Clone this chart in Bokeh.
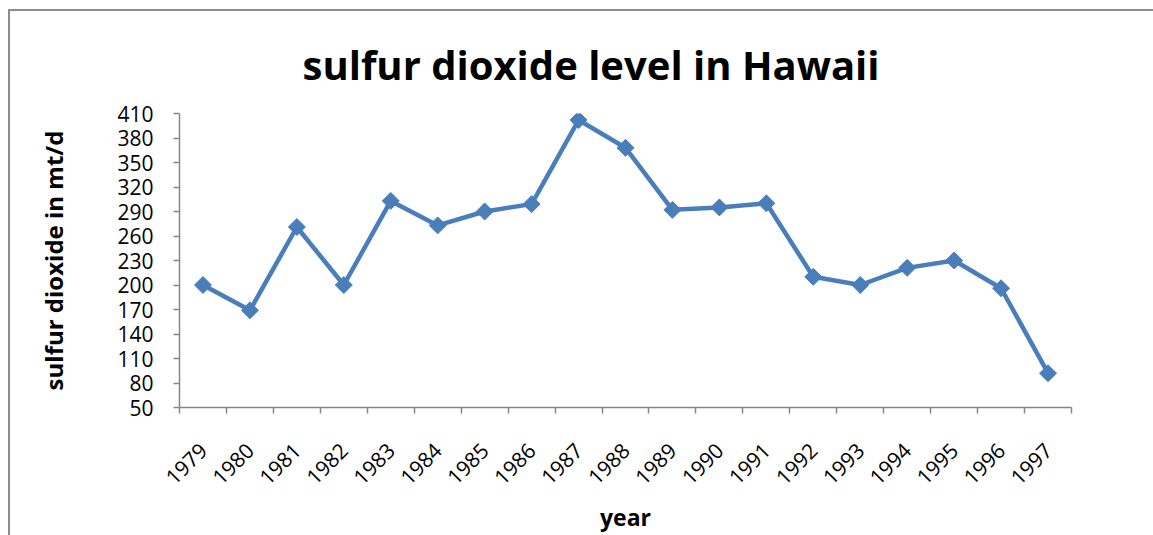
import math
from bokeh.plotting import figure
from bokeh.models import Range1d, FixedTicker
from bokeh.embed import file_html
from bokeh.resources import INLINE

# Annual sulfur dioxide emission (metric tonnes per day)
years = ["1979", "1980", "1981", "1982", "1983", "1984", "1985", "1986", "1987", "1988",
         "1989", "1990", "1991", "1992", "1993", "1994", "1995", "1996", "1997"]
so2 = [200, 169, 271, 200, 303, 273, 290, 299, 402, 368,
       292, 295, 300, 210, 200, 221, 230, 196, 92]
y_ticks = [50, 80, 110, 140, 170, 200, 230, 260, 290, 320, 350, 380, 410]

BLUE = "#4a7ebb"
AXIS = "#868686"
FONT = "Open Sans"

x_pos = [i + 0.5 for i in range(len(years))]

p = figure(frame_width=892, frame_height=294, output_backend="svg", toolbar_location=None,
           x_range=Range1d(0, len(years)), y_range=Range1d(50, 410),
           min_border_left=169, min_border_right=82, min_border_top=102, min_border_bottom=100,
           title="sulfur dioxide level in Hawaii")
p.margin = (9, 0, 0, 8)
p.styles = {"border-left": "2px solid #8c8c8c", "border-top": "2px solid #8c8c8c"}
p.background_fill_color = "white"
p.border_fill_color = "white"
p.outline_line_color = None
p.grid.visible = False

p.title.align = "left"
p.title.offset = 123
p.title.standoff = 43
p.title.text_font = FONT
p.title.text_font_size = "40px"
p.title.text_font_style = "bold"
p.title.text_color = "black"

p.line(x_pos, so2, line_color=BLUE, line_width=4.5, line_join="round")
p.scatter(x_pos, so2, marker="square", size=12, angle=math.pi / 4,
          fill_color=BLUE, line_color=BLUE)

# x axis: labels at category centres, tick marks at category boundaries
xa = p.xaxis[0]
xa.ticker = FixedTicker(ticks=x_pos, minor_ticks=list(range(len(years) + 1)))
xa.major_label_overrides = {x: y for x, y in zip(x_pos, years)}
xa.major_tick_out = 0
xa.major_tick_in = 0
xa.minor_tick_out = 6
xa.minor_tick_in = 0
xa.minor_tick_line_color = AXIS
xa.minor_tick_line_width = 1.5
xa.axis_line_color = AXIS
xa.axis_line_width = 1.5
xa.major_label_orientation = math.pi / 4
xa.major_label_standoff = 33
xa.major_label_text_font = FONT
xa.major_label_text_font_size = "21px"
xa.major_label_text_color = "black"
xa.axis_label = "year"
xa.axis_label_text_font = FONT
xa.axis_label_text_font_size = "23px"
xa.axis_label_text_font_style = "bold"
xa.axis_label_text_color = "black"
xa.axis_label_standoff = 6

ya = p.yaxis[0]
ya.ticker = FixedTicker(ticks=y_ticks)
ya.major_tick_out = 6
ya.major_tick_in = 0
ya.minor_tick_out = 0
ya.minor_tick_in = 0
ya.major_tick_line_color = AXIS
ya.major_tick_line_width = 1.5
ya.axis_line_color = AXIS
ya.axis_line_width = 1.5
ya.major_label_standoff = 20
ya.major_label_text_font = FONT
ya.major_label_text_font_size = "21px"
ya.major_label_text_color = "black"
ya.axis_label = "sulfur dioxide in mt/d"
ya.axis_label_text_font = FONT
ya.axis_label_text_font_size = "24px"
ya.axis_label_text_font_style = "bold"
ya.axis_label_text_color = "black"
ya.axis_label_standoff = 44

open("out.html", "w").write(file_html(p, INLINE))
